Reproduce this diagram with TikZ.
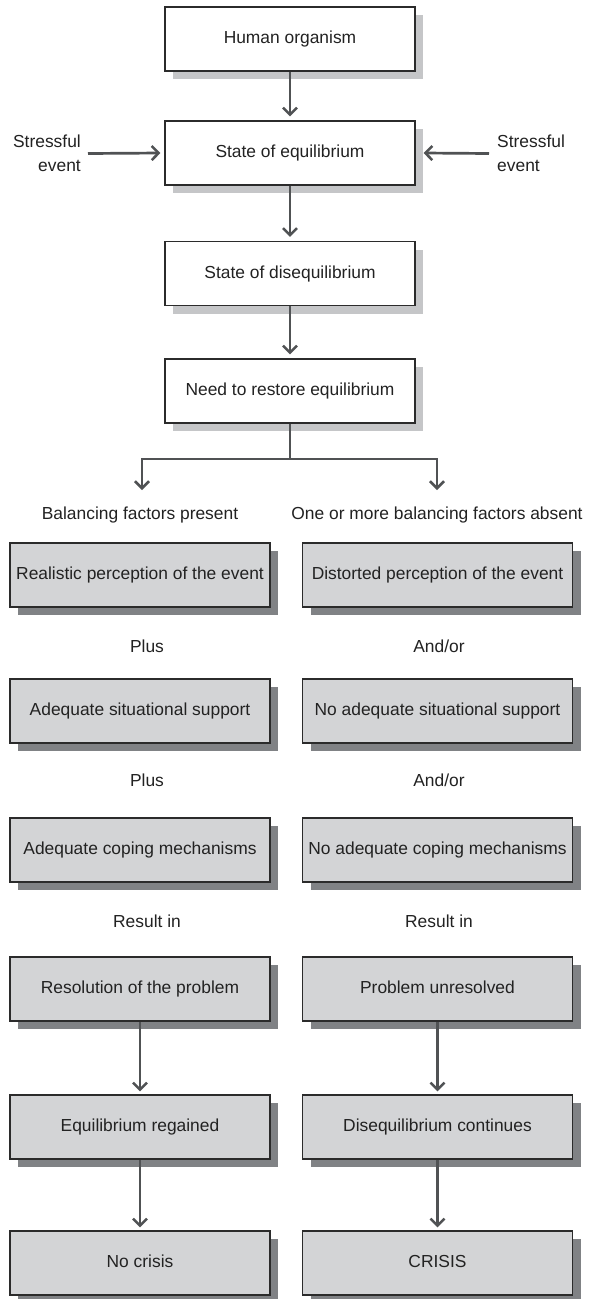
\documentclass[tikz,border=0pt]{standalone}
\usepackage{fontspec}
\setmainfont{Liberation Sans}
\usetikzlibrary{arrows.meta,shadows}
\definecolor{tshadow}{HTML}{C5C6C8}
\definecolor{bfill}{HTML}{D3D4D6}
\definecolor{bshadow}{HTML}{808285}
\definecolor{border}{HTML}{2B2B2B}
\definecolor{arrowc}{HTML}{505254}
\definecolor{txt}{HTML}{222222}
\begin{document}
\begin{tikzpicture}[x=1pt,y=-1pt,
  every node/.style={font=\fontsize{17.4}{24}\selectfont, text=txt},
  topbox/.style={draw=border, line width=1.1pt, fill=white, minimum width=250pt, minimum height=64pt, inner sep=0pt,
     text height=12.5pt, text depth=3.5pt,
     drop shadow={shadow xshift=8pt, shadow yshift=-8pt, fill=tshadow, opacity=1}},
  lbox/.style={draw=border, line width=1.1pt, fill=bfill, minimum width=260pt, minimum height=64pt, inner sep=0pt,
     text height=12.5pt, text depth=3.5pt,
     drop shadow={shadow xshift=8pt, shadow yshift=-8pt, fill=bshadow, opacity=1}},
  rbox/.style={lbox, minimum width=270pt},
  lbl/.style={inner sep=0pt, text height=12.5pt, text depth=3.5pt},
  arr/.style={draw=arrowc, line width=2.7pt, -{Straight Barb[length=7pt,width=14pt,line width=2.5pt]}},
  plain/.style={draw=arrowc, line width=2.7pt}
]
\fill[white] (0,0) rectangle (595,1299);
\useasboundingbox (0,0) rectangle (595,1299);

% main column
\node[topbox] (b1) at (290,39) {Human organism};
\node[topbox] (b2) at (290,153) {State of equilibrium};
\node[topbox] (b3) at (290,273.5) {State of disequilibrium};
\node[topbox] (b4) at (290,391) {Need to restore equilibrium};

\node[inner sep=0pt, align=right, anchor=east] (sL) at (81,153.5) {Stressful\\event};
\node[inner sep=0pt, align=left, anchor=west] (sR) at (497,153.5) {Stressful\\event};

\draw[arr, shorten >=4pt] (b1) -- (b2);
\draw[arr, shorten >=4pt] (b2) -- (b3);
\draw[arr, shorten >=4pt] (b3) -- (b4);
\draw[arr] ([xshift=7pt]sL.east) -- ([xshift=-4pt]b2.west);
\draw[arr] ([xshift=-8pt]sR.west) -- ([xshift=8pt]b2.east);

% branch
\coordinate (br) at (290,459);
\coordinate (tL) at (142,490);
\coordinate (tR) at (437,490);
\draw[plain] (b4.south) -- (br);
\draw[arr] (br) -| (tL);
\draw[arr] (br) -| (tR);

\node[lbl] (lL) at (140,515) {Balancing factors present};
\node[lbl] (lR) at (437,515) {One or more balancing factors absent};

% left column
\node[lbox] (l1) at (140,575) {Realistic perception of the event};
\node[lbl] (pl1) at (147,648) {Plus};
\node[lbox] (l2) at (140,711) {Adequate situational support};
\node[lbl] (pl2) at (147,782) {Plus};
\node[lbox] (l3) at (140,850) {Adequate coping mechanisms};
\node[lbl] (ril) at (147,923) {Result in};
\node[lbox] (l4) at (140,989) {Resolution of the problem};
\node[lbox] (l5) at (140,1127) {Equilibrium regained};
\node[lbox] (l6) at (140,1263) {No crisis};

% right column
\node[rbox] (r1) at (437.5,575) {Distorted perception of the event};
\node[lbl] (ao1) at (439,648) {And/or};
\node[rbox] (r2) at (437.5,711) {No adequate situational support};
\node[lbl] (ao2) at (439,782) {And/or};
\node[rbox] (r3) at (437.5,850) {No adequate coping mechanisms};
\node[lbl] (rir) at (439,923) {Result in};
\node[rbox] (r4) at (437.5,989) {Problem unresolved};
\node[rbox] (r5) at (437.5,1127) {Disequilibrium continues};
\node[rbox] (r6) at (437.5,1263) {CRISIS};

\draw[arr, shorten >=3pt] (l4) -- (l5);
\draw[arr, shorten >=3pt] (l5) -- (l6);
\draw[arr, shorten >=3pt] (r4) -- (r5);
\draw[arr, shorten >=3pt] (r5) -- (r6);
\end{tikzpicture}
\end{document}
